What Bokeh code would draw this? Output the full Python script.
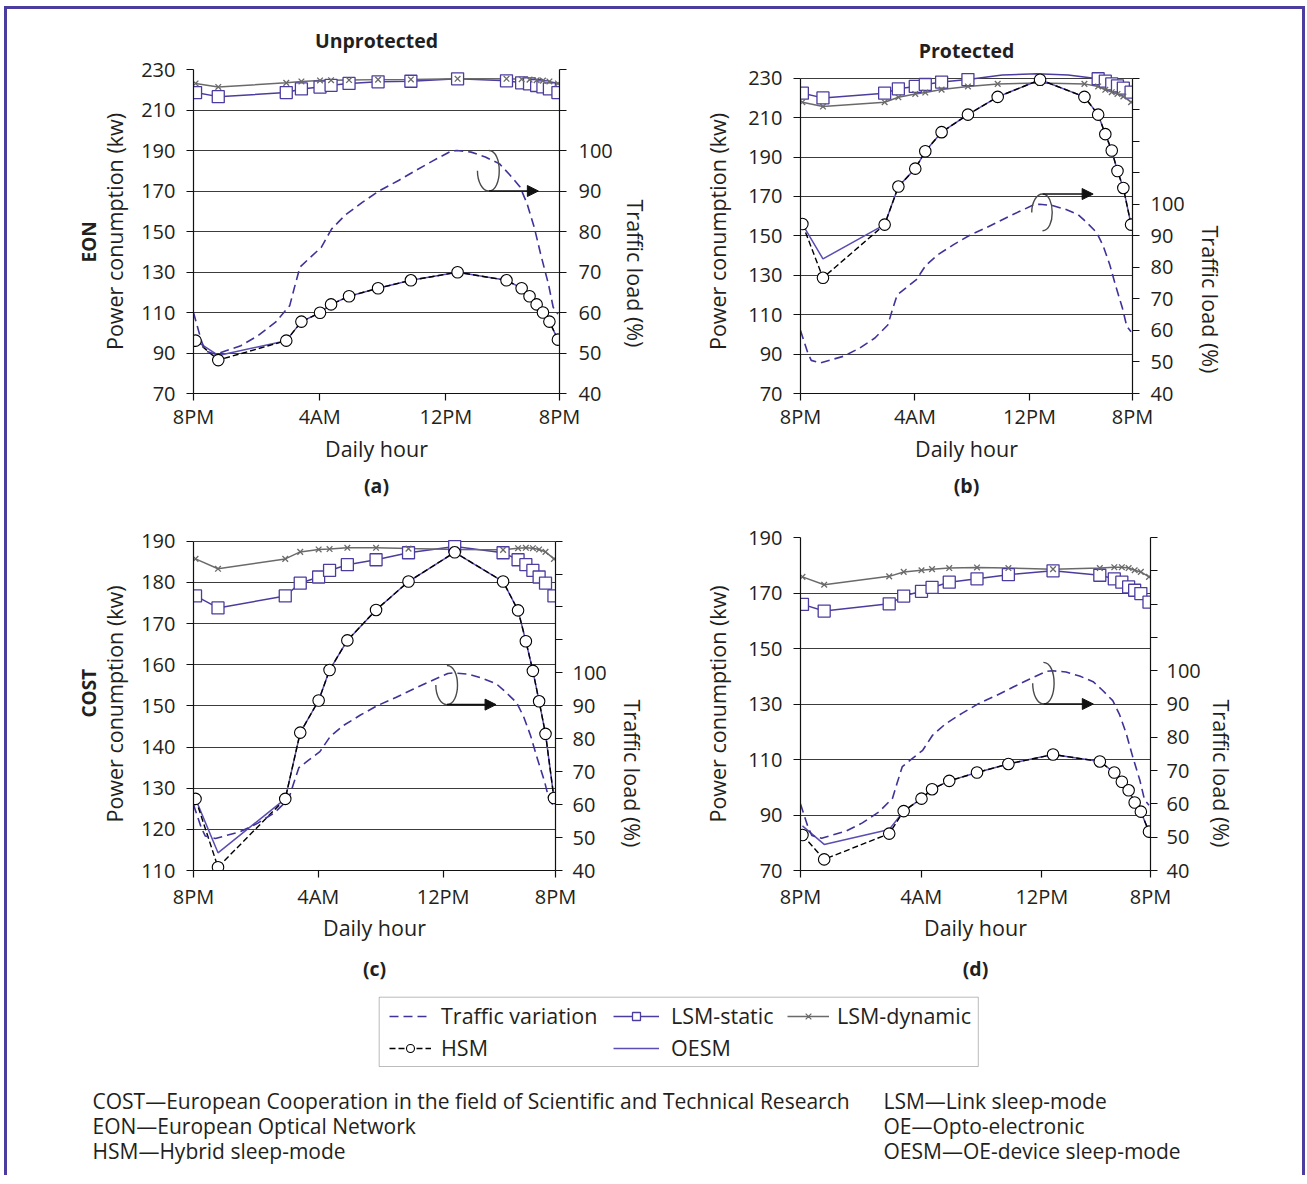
from bokeh.plotting import figure
from bokeh.models import (Range1d, LinearAxis, FixedTicker, Title, Arrow, NormalHead,
                          Legend, LegendItem, ColumnDataSource, BoxAnnotation)
from bokeh.layouts import column, row
from bokeh.embed import file_html
from bokeh.resources import INLINE
from bokeh.core.properties import value

FONT = "Open Sans"
TXT = "#231f20"
PURPLE = "#4b3c9f"
DASHPURPLE = "#3f3399"
OESM_C = "#5a4db4"
GRAY = "#6a6a6a"
GRID = "#3c3c3c"
FRAME = "#4b3c9f"

# ---------------- data (hours after 8PM) ----------------
HOURS = [0.13, 1.57, 5.88, 6.84, 8.02, 8.72, 9.86, 11.7, 13.78, 16.74,
         19.84, 20.8, 21.3, 21.75, 22.15, 22.56, 23.1]
X_TICKS = [0, 8, 16, 23.2]
X_TICK_LABELS = ["8PM", "4AM", "12PM", "8PM"]

TRAFFIC_HOURS = [0, 0.5, 0.75, 1.4, 3.0, 4.1, 5.2, 6.1, 6.4, 6.75, 7.4, 8.1, 8.75,
                 9.6, 10.7, 11.8, 13.0, 14.1, 15.2, 16.3, 16.7, 17.6, 18.5, 19.4,
                 20.0, 20.7, 21.15, 21.6, 22.0, 22.5, 22.8, 23.1]
TRAFFIC_LOAD = [60, 53, 50.5, 49.7, 51.8, 54.3, 57.6, 61.7, 66.2, 71.2, 73.6, 76.1, 80.6,
                84, 87.2, 90.1, 92.6, 95.1, 97.5, 99.8, 100, 99.6, 98.4, 96.7,
                94.2, 91, 86.8, 81, 74.5, 67, 61.3, 59.6]

# (a) EON unprotected
A_STATIC = [218.6, 216.6, 218.6, 220.4, 221.3, 222.2, 223.1, 223.9, 224.2, 225.4,
            224.4, 223.4, 222.9, 222.1, 221.4, 220.4, 218.6]
A_DYNAMIC = [223.1, 221.4, 223.4, 224.1, 224.6, 224.7, 224.8, 225.0, 225.1, 225.4,
             225.4, 225.2, 225.0, 224.7, 224.5, 224.1, 223.1]
A_HSM = [96.1, 86.5, 96.1, 105.5, 109.9, 114, 118, 122, 125.9, 129.9,
         125.9, 122, 118, 114, 110, 105.5, 96.6]
A_OESM = [96.1, 88.8, 96.1, 105.5, 109.9, 114, 118, 122, 125.9, 129.9,
          125.9, 122, 118, 114, 110, 105.5, 96.6]

# (b) EON protected
B_STATIC_HOURS = [0.13, 1.57, 5.88, 6.84, 8.02, 8.72, 9.86, 11.7,
                  20.8, 21.3, 21.75, 22.15, 22.56, 23.1]
B_STATIC = [222.4, 220, 222.4, 224.6, 225.8, 226.8, 228, 229.3,
            229.7, 228.5, 227.1, 226.1, 224.9, 222.9]
# the LSM-static curve of (b) rises above 230 between its 11.7 h and 20.8 h markers
B_STATIC_LINE_HOURS = [0.13, 1.57, 5.88, 6.84, 8.02, 8.72, 9.86, 11.7, 14.1, 16.5, 18.7,
                       20.8, 21.3, 21.75, 22.15, 22.56, 23.1]
B_STATIC_LINE = [222.4, 220, 222.4, 224.6, 225.8, 226.8, 228, 229.3, 231.6, 232.3, 231.6,
                 229.7, 228.5, 227.1, 226.1, 224.9, 222.9]
B_DYNAMIC = [217.8, 215.6, 217.8, 220.3, 222, 222.7, 224.2, 225.8, 227.1, 227.6,
             227.1, 225.8, 224.1, 222.9, 222, 220.7, 217.8]
B_HSM = [156, 128.7, 155.7, 175, 184.1, 192.9, 202.6, 211.5, 220.5, 229.2,
         220.5, 211.5, 201.6, 193.3, 182.9, 174.3, 155.7]
B_OESM = [156, 138.3, 155.7, 175, 184.1, 192.9, 202.6, 211.5, 220.5, 229.2,
          220.5, 211.5, 201.6, 193.3, 182.9, 174.3, 155.7]

# (c) COST unprotected
C_STATIC = [176.7, 173.8, 176.7, 179.8, 181.3, 182.9, 184.3, 185.5, 187.2, 188.7,
            187.2, 185.5, 184.3, 182.9, 181.3, 179.8, 176.7]
C_DYNAMIC = [185.7, 183.3, 185.7, 187.4, 188, 188.1, 188.4, 188.4, 188.2, 188,
             187.9, 188.3, 188.4, 188.3, 188, 187.4, 185.7]
C_HSM = [127.4, 110.8, 127.4, 143.5, 151.3, 158.7, 165.9, 173.3, 180.2, 187.3,
         180.2, 173.2, 165.7, 158.5, 151.1, 143.2, 127.6]
C_OESM = [127.4, 114.3, 127.4, 143.5, 151.3, 158.7, 165.9, 173.3, 180.2, 187.3,
          180.2, 173.2, 165.7, 158.5, 151.1, 143.2, 127.6]

# (d) COST protected
D_STATIC = [165.9, 163.5, 166.1, 168.9, 170.6, 172, 173.9, 175.1, 176.6, 178,
            176.4, 175.1, 173.9, 172.2, 171, 169.8, 166.7]
D_DYNAMIC = [175.8, 173, 176, 177.6, 178.2, 178.6, 179, 179.2, 179, 178.6,
             179, 179.3, 179.3, 179, 178.2, 177.6, 175.8]
D_HSM = [82.8, 74, 83.3, 91.4, 95.9, 99.3, 102.3, 105.3, 108.4, 111.8,
         109.3, 105.3, 102, 98.9, 94.5, 91.2, 84]
D_OESM = [86.1, 79.4, 84.8, 91.4, 95.9, 99.3, 102.3, 105.3, 108.4, 111.8,
          109.3, 105.3, 102, 98.9, 94.5, 91.2, 84]

LEFT_TICKS_AB = [70, 90, 110, 130, 150, 170, 190, 210, 230]
LEFT_TICKS_C = [110, 120, 130, 140, 150, 160, 170, 180, 190]
LEFT_TICKS_D = [70, 90, 110, 130, 150, 170, 190]
RIGHT_TICKS_A = [40, 50, 60, 70, 80, 90, 100, 110, 120]
RIGHT_TICKS_BCD = [40, 50, 60, 70, 80, 90, 100, 110, 120, 130, 140]

LEGEND_LABELS = ["Traffic variation", "LSM-static", "LSM-dynamic", "HSM", "OESM"]
NOTES_LEFT = ["COST\u2014European Cooperation in the field of Scientific and Technical Research",
              "EON\u2014European Optical Network",
              "HSM\u2014Hybrid sleep-mode"]
NOTES_RIGHT = ["LSM\u2014Link sleep-mode",
               "OE\u2014Opto-electronic",
               "OESM\u2014OE-device sleep-mode"]

TICK_FS = "20px"
LAB_FS = "21.5px"
HEAD_FS = "19.5px"


def style_axis(ax):
    ax.axis_line_color = "#111111"
    ax.axis_line_width = 1.2
    ax.major_tick_line_color = "#111111"
    ax.major_tick_line_width = 1.2
    ax.major_tick_out = 7
    ax.major_tick_in = 0
    ax.minor_tick_line_color = None
    ax.major_label_text_font = FONT
    ax.major_label_text_font_size = TICK_FS
    ax.major_label_text_color = TXT
    ax.axis_label_text_font = FONT
    ax.axis_label_text_font_size = LAB_FS
    ax.axis_label_text_font_style = "normal"
    ax.axis_label_text_color = TXT


def panel(cfg):
    p = figure(width=cfg["w"], height=cfg["h"], x_range=Range1d(0, X_TICKS[-1]),
               y_range=Range1d(*cfg["yr"]), output_backend="svg", toolbar_location=None,
               min_border_left=cfg["bl"], min_border_right=cfg["br"],
               min_border_top=cfg["bt"], min_border_bottom=cfg["bb"])
    p.outline_line_color = None
    p.background_fill_color = "white"
    p.border_fill_color = "white"
    if cfg.get("title"):
        p.title.text = cfg["title"]
        p.title.align = "center"
        p.title.text_font = FONT
        p.title.text_font_size = HEAD_FS
        p.title.text_font_style = "bold"
        p.title.text_color = TXT
        p.title.standoff = cfg["title_so"]
    else:
        p.title.text_font_size = "1px"
        p.title.standoff = 0
    p.xgrid.visible = False
    p.ygrid.grid_line_color = GRID
    p.ygrid.grid_line_width = 1
    p.yaxis.ticker = FixedTicker(ticks=cfg["lt"])
    p.ygrid.ticker = FixedTicker(ticks=cfg["lt"])
    p.yaxis.bounds = (cfg["lt"][0], cfg["lt"][-1])
    p.xaxis.ticker = FixedTicker(ticks=X_TICKS)
    p.xaxis.major_label_overrides = dict(zip(X_TICKS, X_TICK_LABELS))
    p.xaxis.axis_label = "Daily hour"
    p.yaxis.axis_label = "Power conumption (kw)"
    for ax in p.xaxis + p.yaxis:
        style_axis(ax)
    p.xaxis.major_label_standoff = cfg["xt_so"]
    p.xaxis.axis_label_standoff = cfg["xl_so"]
    p.yaxis.major_label_standoff = 11
    p.yaxis.axis_label_standoff = cfg["yl_so"]

    p.extra_y_ranges = {"tr": Range1d(*cfg["rr"])}
    rt = cfg["rt"]
    rax = LinearAxis(y_range_name="tr", ticker=FixedTicker(ticks=rt), bounds=(rt[0], rt[-1]))
    style_axis(rax)
    rax.major_label_overrides = {t: "" for t in rt if t > 100}
    rax.major_label_standoff = cfg["rt_so"]
    p.add_layout(rax, "right")
    p.add_layout(Title(text="Traffic load (%)", align="left", offset=cfg["rl_off"],
                       standoff=cfg["rl_so"], text_font=FONT, text_font_size=LAB_FS,
                       text_font_style="normal", text_color=TXT), "right")

    if cfg.get("side"):
        p.add_layout(Title(text=cfg["side"], align="left", offset=cfg["side_off"], standoff=-8,
                           text_font=FONT, text_font_size="19px", text_font_style="bold",
                           text_color=TXT), "left")
    p.add_layout(Title(text=cfg["sub"], align="center", text_font=FONT, text_font_size=HEAD_FS,
                       text_font_style="bold", text_color=TXT, standoff=cfg["sub_so"]), "below")

    sx, sy, dyn, hsm, oesm = cfg["series"]
    lx_, ly_ = cfg.get("static_line", (sx, sy))
    p.line(lx_, ly_, line_color=PURPLE, line_width=1.5)
    p.line(HOURS, dyn, line_color=GRAY, line_width=1.5)
    p.line(HOURS, oesm, line_color=OESM_C, line_width=1.5)
    p.line(HOURS, hsm, line_color="black", line_width=1.4, line_dash="6 3")
    p.line(TRAFFIC_HOURS, TRAFFIC_LOAD, y_range_name="tr", line_color=DASHPURPLE,
           line_width=1.6, line_dash="9 5")
    p.scatter(sx, sy, marker="square", size=12, fill_color="white", line_color=PURPLE,
              line_width=1.3)
    p.scatter(HOURS, dyn, marker="x", size=8, line_color=GRAY, line_width=1.3)
    p.scatter(HOURS, hsm, marker="circle", size=11.5, fill_color="white",
              line_color="black", line_width=1.1)

    # loop + arrow pointing to the right-hand axis
    lx, ay, oy, rx, lfx, ex = cfg["ann"]
    k = (rx - lx) * 4.0 / 3.0
    my = (ay + oy) / 2.0
    kl = (lx - lfx) * 0.552
    src = ColumnDataSource(dict(
        x0=[lx, lx], y0=[oy, ay], x1=[lx, lfx], y1=[ay, my],
        cx0=[lx + k, lx - kl], cy0=[oy, ay], cx1=[lx + k, lfx],
        cy1=[ay, ay + (my - ay) * 0.448]))
    p.bezier(x0="x0", y0="y0", x1="x1", y1="y1", cx0="cx0", cy0="cy0", cx1="cx1",
             cy1="cy1", source=src, line_color="#4a4a4a", line_width=1.4)
    p.add_layout(Arrow(end=NormalHead(size=11, fill_color="#111111", line_color="#111111"),
                       x_start=lx, y_start=ay, x_end=ex, y_end=ay,
                       line_color="#111111", line_width=1.6))
    return p


# annotation: loop x, arrow y, loop far y, loop right x, loop left x, arrow end x
ANN_A = (18.72, 170, 190, 19.38, 18.0, 21.86)
ANN_B = (16.91, 171.2, 152.6, 17.59, 16.16, 20.45)
ANN_C = (16.24, 150.3, 159.8, 16.92, 15.53, 19.39)
ANN_D = (16.1, 130, 145, 16.81, 15.39, 19.41)

pa = panel(dict(w=650, h=501, bl=186, br=97, bt=60, bb=117, yr=(70, 230), lt=LEFT_TICKS_AB,
                rr=(40, 120), rt=RIGHT_TICKS_A, title="Unprotected", title_so=31,
                side="EON", side_off=131, sub="(a)", sub_so=9,
                xt_so=2, xl_so=1, yl_so=9, rt_so=12, rl_off=130, rl_so=11,
                series=(HOURS, A_STATIC, A_DYNAMIC, A_HSM, A_OESM), ann=ANN_A))
pb = panel(dict(w=645, h=501, bl=143, br=170, bt=60, bb=117, yr=(70, 234.4), lt=LEFT_TICKS_AB,
                rr=(40, 142.7), rt=RIGHT_TICKS_BCD, title="Protected", title_so=11,
                sub="(b)", sub_so=9, xt_so=2, xl_so=1, yl_so=13, rt_so=11,
                rl_off=156, rl_so=17, static_line=(B_STATIC_LINE_HOURS, B_STATIC_LINE),
                series=(B_STATIC_HOURS, B_STATIC, B_DYNAMIC, B_HSM, B_OESM), ann=ANN_B))
pc = panel(dict(w=650, h=480, bl=186, br=101, bt=27, bb=120, yr=(110, 190.9), lt=LEFT_TICKS_C,
                rr=(40, 141.1), rt=RIGHT_TICKS_BCD, side="COST", side_off=153,
                sub="(c)", sub_so=17, xt_so=5, xl_so=0, yl_so=9, rt_so=10,
                rl_off=162, rl_so=17,
                series=(HOURS, C_STATIC, C_DYNAMIC, C_HSM, C_OESM), ann=ANN_C))
pd_ = panel(dict(w=645, h=480, bl=143, br=152, bt=27, bb=120, yr=(70, 190), lt=LEFT_TICKS_D,
                 rr=(40, 140), rt=RIGHT_TICKS_BCD, sub="(d)", sub_so=17, xt_so=5, xl_so=0,
                 yl_so=13, rt_so=9, rl_off=162, rl_so=7,
                 series=(HOURS, D_STATIC, D_DYNAMIC, D_HSM, D_OESM), ann=ANN_D))

# ---------------- legend + notes ----------------
NW, NH = 1295, 185
n = figure(width=NW, height=NH, x_range=Range1d(0, NW), y_range=Range1d(NH, 0),
           output_backend="svg", toolbar_location=None, min_border=0)
n.axis.visible = False
n.grid.visible = False
n.outline_line_color = None
n.title.text_font_size = "1px"
n.title.standoff = 0

r_tr = n.line(TRAFFIC_HOURS, TRAFFIC_LOAD, visible=False, line_color=DASHPURPLE,
              line_width=1.6, line_dash="9 5")
r_sl = n.line(HOURS, A_STATIC, visible=False, line_color=PURPLE, line_width=1.5)
r_sm = n.scatter(HOURS, A_STATIC, visible=False, marker="square", size=10,
                 fill_color="white", line_color=PURPLE, line_width=1.3)
r_dl = n.line(HOURS, A_DYNAMIC, visible=False, line_color=GRAY, line_width=1.5)
r_dm = n.scatter(HOURS, A_DYNAMIC, visible=False, marker="x", size=6, line_color=GRAY,
                 line_width=1.2)
r_hl = n.line(HOURS, A_HSM, visible=False, line_color="black", line_width=1.4,
              line_dash="6 3")
r_hm = n.scatter(HOURS, A_HSM, visible=False, marker="circle", size=9, fill_color="white",
                 line_color="black", line_width=1.1)
r_ol = n.line(HOURS, A_OESM, visible=False, line_color=OESM_C, line_width=1.5)


def add_legend(items, loc, gw, so):
    lg = Legend(items=items, location=loc, orientation="vertical",
                label_text_font=FONT, label_text_font_size=LAB_FS, label_text_color=TXT,
                glyph_width=gw, glyph_height=20, label_height=29, label_standoff=so,
                spacing=3, padding=0, margin=0, border_line_color=None,
                background_fill_alpha=0)
    n.add_layout(lg, "center")


add_legend([LegendItem(label=LEGEND_LABELS[0], renderers=[r_tr]),
            LegendItem(label=LEGEND_LABELS[3], renderers=[r_hl, r_hm])], (382, 113), 42, 10)
add_legend([LegendItem(label=LEGEND_LABELS[1], renderers=[r_sl, r_sm]),
            LegendItem(label=LEGEND_LABELS[4], renderers=[r_ol])], (606, 113), 46, 12)
add_legend([LegendItem(label=LEGEND_LABELS[2], renderers=[r_dl, r_dm])], (780, 145), 42, 8)
n.add_layout(BoxAnnotation(left=371.7, right=970.8, top=6.7, bottom=76, fill_color=None,
                           line_color=TXT, line_width=1))

ys = [110 + 25.3 * i for i in range(len(NOTES_LEFT))]
nl = ColumnDataSource(dict(x=[85] * len(NOTES_LEFT), y=ys, t=NOTES_LEFT))
nr = ColumnDataSource(dict(x=[876] * len(NOTES_RIGHT), y=ys, t=NOTES_RIGHT))
for s in (nl, nr):
    n.text(x="x", y="y", text="t", source=s, text_font=value(FONT), text_font_size="21px",
           text_color=TXT, text_baseline="middle", text_align="left")

layout = column(row(pa, pb), row(pc, pd_), n, margin=(6, 0, 0, 4),
                styles={"border-left": "3px solid " + FRAME, "border-top": "3px solid " + FRAME,
                        "border-right": "3px solid " + FRAME, "background-color": "white"})

open("out.html", "w").write(file_html(layout, INLINE))
